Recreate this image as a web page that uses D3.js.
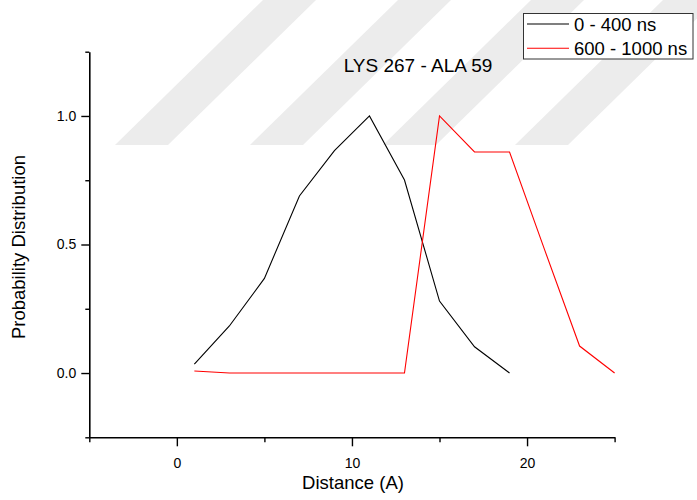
<!DOCTYPE html>
<html>
<head>
<meta charset="utf-8">
<script src="https://cdn.jsdelivr.net/npm/d3@7/dist/d3.min.js"></script>
<style>
  html, body { margin: 0; padding: 0; background: #fff; }
  svg { display: block; font-family: "Liberation Sans", Arial, sans-serif; }
</style>
</head>
<body>
<svg id="chart" width="697" height="500"></svg>
<script>
// Distance bins (Å) and normalised probability for each time window
const distance = [1, 3, 5, 7, 9, 11, 13, 15, 17, 19, 21, 23, 25];
const early = [0.035, 0.183, 0.368, 0.689, 0.865, 1.0, 0.751, 0.28, 0.102, 0.0, null, null, null];
const late  = [0.008, 0.0, 0.0, 0.0, 0.0, 0.0, 0.0, 1.0, 0.86, 0.86, 0.48, 0.105, 0.0];
const seriesNames = ["0 - 400 ns", "600 - 1000 ns"];
const seriesColors = ["#000000", "#ff0000"];
const xTicksMajor = [0, 10, 20];
const xTicksMinor = [-5, 5, 15, 25];
const yTicksMajor = [0, 0.5, 1.0];
const yTicksMinor = [-0.25, 0.25, 0.75, 1.25];
const title = "LYS 267 - ALA 59";
const xTitle = "Distance (A)";
const yTitle = "Probability Distribution";

const svg = d3.select("#chart");

// faint diagonal background bands
const bands = svg.append("g").attr("fill", "#ececec");
const bandTop = 0, bandBottom = 145, bandWidth = 53, bandShift = 148;
[115, 250, 383, 515].forEach(x0 => {
  bands.append("path").attr("d",
    `M${x0},${bandBottom} L${x0 + bandWidth},${bandBottom} L${x0 + bandWidth + bandShift},${bandTop} L${x0 + bandShift},${bandTop} Z`);
});

const x = d3.scaleLinear().domain([-5, 25]).range([89.3, 614.6]);
const y = d3.scaleLinear().domain([-0.25, 1.25]).range([437.3, 51.7]);

const axisColor = "#000";

// x axis
const gx = svg.append("g").attr("transform", `translate(0,${y(-0.25)})`);
gx.call(d3.axisBottom(x).tickValues(xTicksMajor).tickSize(9).tickSizeOuter(0).tickFormat(d3.format("d")));
gx.append("g").call(d3.axisBottom(x).tickValues(xTicksMinor).tickSize(5).tickSizeOuter(0).tickFormat(""))
  .select(".domain").remove();
gx.selectAll(".domain").attr("stroke", axisColor).attr("stroke-width", 1.6);
gx.selectAll(".tick line").attr("stroke", axisColor).attr("stroke-width", 1.4);
gx.selectAll(".tick text").attr("font-size", 14).attr("fill", "#000").attr("dy", "1.35em")
  .attr("font-family", "'Liberation Sans', Arial, sans-serif");

// y axis
const gy = svg.append("g").attr("transform", `translate(${x(-5)},0)`);
gy.call(d3.axisLeft(y).tickValues(yTicksMajor).tickSize(8).tickSizeOuter(0).tickFormat(d3.format(".1f")));
gy.append("g").call(d3.axisLeft(y).tickValues(yTicksMinor).tickSize(4).tickSizeOuter(0).tickFormat(""))
  .select(".domain").remove();
gy.selectAll(".domain").attr("stroke", axisColor).attr("stroke-width", 1.6);
gy.selectAll(".tick line").attr("stroke", axisColor).attr("stroke-width", 1.4);
gy.selectAll(".tick text").attr("font-size", 14).attr("fill", "#000").attr("x", -13)
  .attr("font-family", "'Liberation Sans', Arial, sans-serif");

// series lines
const line = d3.line()
  .defined(d => d[1] !== null)
  .x(d => x(d[0]))
  .y(d => y(d[1]));

[early, late].forEach((vals, i) => {
  svg.append("path")
    .datum(distance.map((dv, j) => [dv, vals[j]]))
    .attr("fill", "none")
    .attr("stroke", seriesColors[i])
    .attr("stroke-width", 1.1)
    .attr("stroke-linejoin", "miter")
    .attr("d", line);
});

// titles
svg.append("text").attr("x", 418).attr("y", 72).attr("text-anchor", "middle")
  .attr("font-size", 19).attr("fill", "#000").text(title);
svg.append("text").attr("x", 353).attr("y", 488.5).attr("text-anchor", "middle")
  .attr("font-size", 18.5).attr("fill", "#000").text(xTitle);
svg.append("text").attr("transform", "translate(25,247) rotate(-90)").attr("text-anchor", "middle")
  .attr("font-size", 18.5).attr("fill", "#000").text(yTitle);

// legend
const lg = svg.append("g");
lg.append("rect").attr("x", 523.5).attr("y", 13.5).attr("width", 169.5).attr("height", 45.5)
  .attr("fill", "#fff").attr("stroke", "#333").attr("stroke-width", 1);
seriesNames.forEach((name, i) => {
  const ly = 24 + i * 24.3;
  lg.append("line").attr("x1", 527).attr("x2", 569).attr("y1", ly).attr("y2", ly)
    .attr("stroke", seriesColors[i]).attr("stroke-width", 1.1);
  lg.append("text").attr("x", 574).attr("y", ly + 6.7).attr("font-size", 18.5)
    .attr("fill", "#000").text(name);
});
</script>
</body>
</html>
